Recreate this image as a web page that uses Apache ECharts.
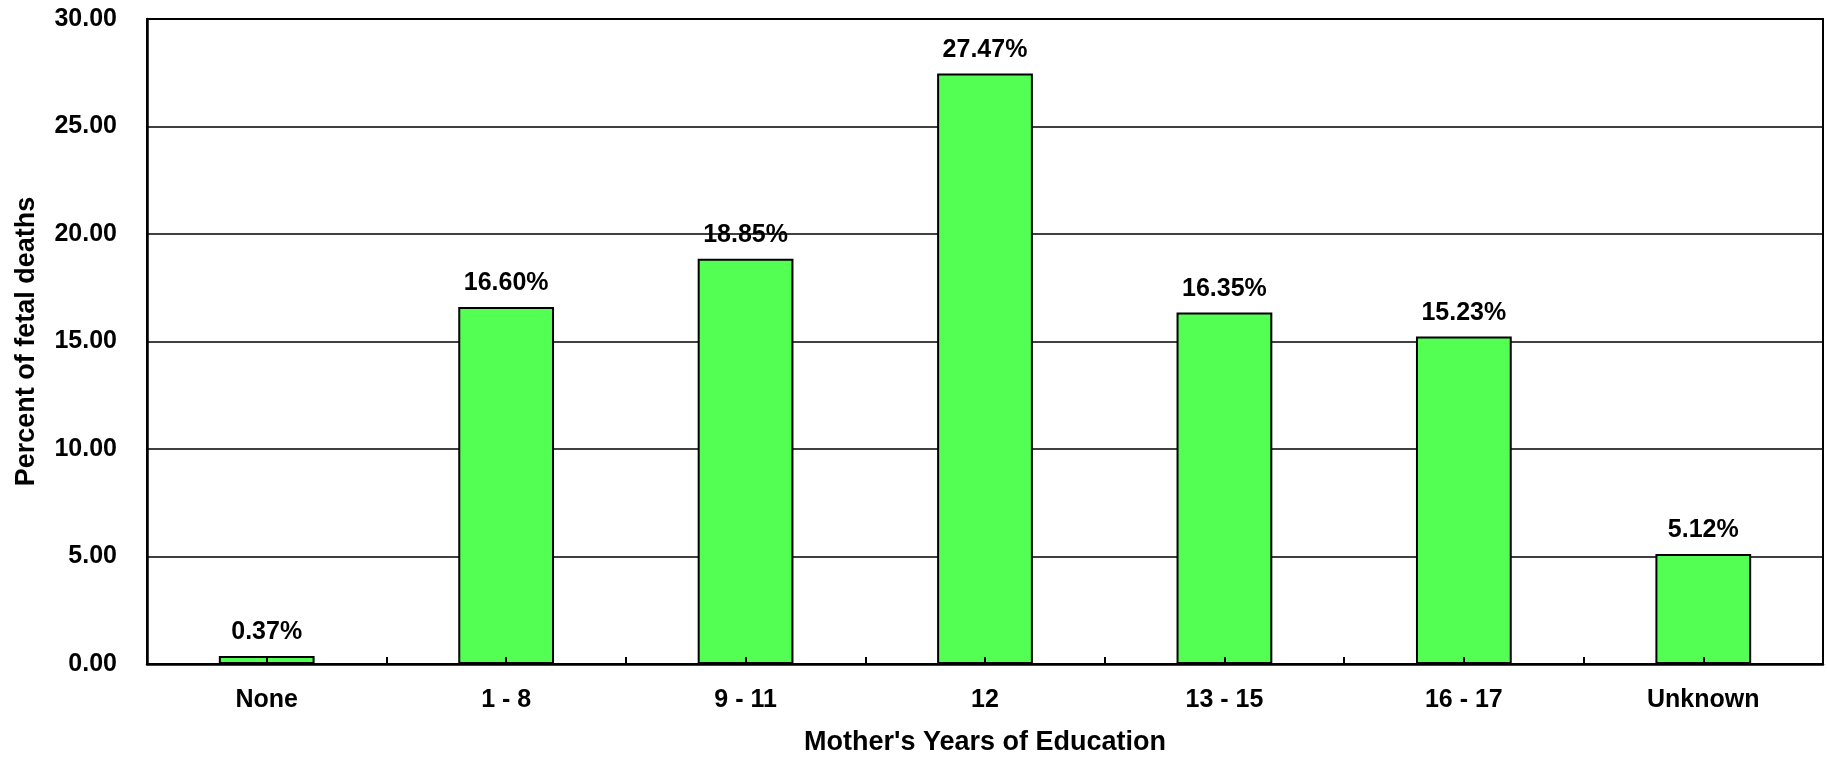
<!DOCTYPE html>
<html>
<head>
<meta charset="utf-8">
<script src="https://cdn.jsdelivr.net/npm/echarts@6/dist/echarts.min.js"></script>
<style>
html,body{margin:0;padding:0;background:#fff;}
#chart{width:1827px;height:761px;}
</style>
</head>
<body>
<div id="chart"></div>
<script>
const categories = ["None", "1 - 8", "9 - 11", "12", "13 - 15", "16 - 17", "Unknown"];
const percentValues = [0.37, 16.60, 18.85, 27.47, 16.35, 15.23, 5.12];
const yTicks = { min: 0, max: 30, interval: 5 };
const xTitle = "Mother's Years of Education";
const yTitle = "Percent of fetal deaths";

const FONT = '"Liberation Sans", Arial, sans-serif';
const chart = echarts.init(document.getElementById('chart'), null, { renderer: 'canvas' });
chart.setOption({
  animation: false,
  backgroundColor: '#ffffff',
  grid: { left: 147, right: 4, top: 19, bottom: 97, show: true, borderColor: '#000', borderWidth: 2, backgroundColor: 'transparent' },
  xAxis: [{
    type: 'category',
    data: categories,
    position: 'bottom',
    name: xTitle,
    nameLocation: 'middle',
    nameGap: 65,
    nameTextStyle: { fontFamily: FONT, fontWeight: 'bold', fontSize: 27, color: '#000' },
    axisLine: { show: true, lineStyle: { color: '#000', width: 2.5 } },
    axisTick: { show: true, inside: true, length: 7, lineStyle: { color: '#000', width: 2 } },
    axisLabel: { fontFamily: FONT, fontWeight: 'bold', fontSize: 25, color: '#000', margin: 24 },
    splitLine: { show: false }
  }, {
    type: 'category',
    data: categories,
    position: 'bottom',
    offset: 0,
    z: 10,
    axisLine: { show: false },
    axisTick: { show: true, inside: true, alignWithLabel: true, length: 7, lineStyle: { color: '#000', width: 2 } },
    axisLabel: { show: false },
    splitLine: { show: false }
  }],
  yAxis: {
    type: 'value',
    min: yTicks.min,
    max: yTicks.max,
    interval: yTicks.interval,
    name: yTitle,
    nameLocation: 'middle',
    nameGap: 107,
    nameRotate: 90,
    nameTextStyle: { fontFamily: FONT, fontWeight: 'bold', fontSize: 27, color: '#000' },
    axisLine: { show: true, lineStyle: { color: '#000', width: 2.5 } },
    axisTick: { show: false },
    axisLabel: { fontFamily: FONT, fontWeight: 'bold', fontSize: 25, color: '#000', margin: 30,
      formatter: v => v.toFixed(2) },
    splitLine: { show: true, lineStyle: { color: '#000', width: 1.6 } }
  },
  series: [{
    type: 'bar',
    data: percentValues,
    barWidth: '40%',
    itemStyle: { color: '#52FF52', borderColor: '#000', borderWidth: 2 },
    label: {
      show: true,
      position: 'top',
      distance: 11,
      fontFamily: FONT,
      fontWeight: 'bold',
      fontSize: 25,
      color: '#000',
      formatter: p => p.value.toFixed(2) + '%'
    }
  }]
});
</script>
</body>
</html>
